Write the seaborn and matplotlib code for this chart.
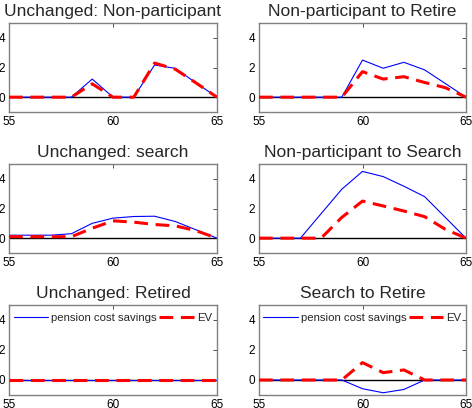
import numpy as np
import pandas as pd
import matplotlib
matplotlib.use("Agg")
import matplotlib.pyplot as plt
import seaborn as sns

ages = [55, 56, 57, 58, 59, 60, 61, 62, 63, 64, 65]
titles = ["Unchanged: Non-participant", "Non-participant to Retire",
          "Unchanged: search", "Non-participant to Search",
          "Unchanged: Retired", "Search to Retire"]
pension = [
    [0, 0, 0, 0, 1.22, 0, 0, 2.17, 1.94, 0.95, 0],
    [0, 0, 0, 0, 0, 2.5, 1.95, 2.35, 1.84, 0.92, 0],
    [0.2, 0.2, 0.2, 0.3, 1.0, 1.35, 1.46, 1.48, 1.12, 0.56, 0],
    [0, 0, 0, 1.65, 3.3, 4.5, 4.15, 3.5, 2.8, 1.4, 0],
    [0, 0, 0, 0, 0, 0, 0, 0, 0, 0, 0],
    [0, 0, 0, 0, 0, -0.58, -0.85, -0.63, 0, 0, 0],
]
ev = [
    [0, 0, 0, 0, 0.9, 0, 0, 2.3, 1.88, 0.95, 0],
    [0, 0, 0, 0, 0, 1.72, 1.22, 1.38, 0.99, 0.64, 0],
    [0.1, 0.1, 0.1, 0.1, 0.67, 1.17, 1.08, 0.92, 0.83, 0.5, 0],
    [0, 0, 0, 0, 1.4, 2.5, 2.17, 1.83, 1.45, 0.6, 0],
    [0, 0, 0, 0, 0, 0, 0, 0, 0, 0, 0],
    [0, 0, 0, 0, 0, 1.16, 0.49, 0.67, 0, 0, 0],
]
xticks = [55, 60, 65]
yticks = [0, 2, 4]
legend_labels = ["pension cost savings", "EV"]

sns.set_style("white")
plt.rcParams["font.family"] = ["Liberation Sans", "DejaVu Sans"]
plt.rcParams["xtick.direction"] = "in"
plt.rcParams["ytick.direction"] = "in"

fig = plt.figure(figsize=(4.72, 4.08), dpi=100)
W, H = 472, 408
cols = [(9, 217), (259, 466)]
rows = [(23, 112), (164, 253), (305, 395)]

for i in range(6):
    r, c = divmod(i, 2)
    x0, x1 = cols[c]
    y0, y1 = rows[r]
    ax = fig.add_axes([x0 / W, 1 - y1 / H, (x1 - x0) / W, (y1 - y0) / H])
    df = pd.DataFrame({"age": ages, "pension": pension[i], "ev": ev[i]})
    ax.axhline(0, color="black", lw=1.0, zorder=1)
    sns.lineplot(data=df, x="age", y="pension", ax=ax, color="blue", lw=0.8,
                 label=legend_labels[0] if r == 2 else None, zorder=2)
    sns.lineplot(data=df, x="age", y="ev", ax=ax, color="red", lw=2.2,
                 linestyle=(0, (4.5, 2.5)),
                 label=legend_labels[1] if r == 2 else None, zorder=3)
    ax.set_xlim(55, 65)
    ax.set_ylim(-1, 5)
    ax.set_xticks(xticks)
    ax.set_yticks(yticks)
    ax.set_xlabel("")
    ax.set_ylabel("")
    ax.tick_params(labelsize=8.5, length=3, width=0.6, top=True, right=True,
                   colors="#333333", labelcolor="black", pad=3)
    for s in ax.spines.values():
        s.set_color("#808080")
        s.set_linewidth(1.0)
        s.set_visible(True)
    ax.set_title(titles[i], fontsize=12.5, pad=5)
    if r == 2:
        ax.legend(loc="upper center", ncol=2, frameon=False, fontsize=8.2,
                  handlelength=3.0, columnspacing=0.2, handletextpad=0.3,
                  borderaxespad=0.3, bbox_to_anchor=(0.5, 1.0))
    else:
        leg = ax.get_legend()
        if leg:
            leg.remove()

fig.savefig("out.png", dpi=100)
